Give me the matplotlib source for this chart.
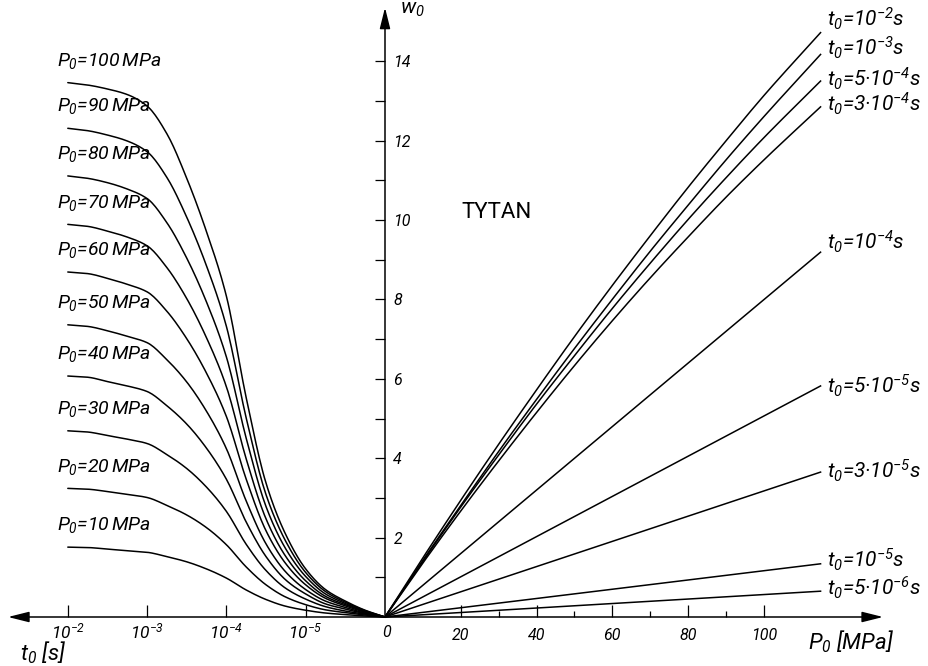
import numpy as np
import matplotlib
matplotlib.use("Agg")
import matplotlib.pyplot as plt
from matplotlib import font_manager
from matplotlib.ticker import FixedLocator, FixedFormatter, NullLocator

# ---------------- data ----------------
# left panel: w0 versus loading time t0 (log10 of t0), one curve per pressure P0
log_t0 = [-2.0, -2.25, -2.5, -2.75, -3.0, -3.25, -3.5, -3.75, -4.0,
          -4.25, -4.5, -4.75, -5.0, -5.25, -5.5, -5.75, -6.0]
pressures = [100, 90, 80, 70, 60, 50, 40, 30, 20, 10]
w_p100 = [13.46, 13.40, 13.30, 13.16, 12.87, 12.17, 11.05, 9.70, 8.08, 5.52, 3.37, 2.07, 1.21, 0.69, 0.40, 0.17, 0.0]
w_p90 = [12.31, 12.25, 12.14, 11.99, 11.72, 11.07, 10.07, 8.84, 7.32, 5.01, 3.08, 1.90, 1.12, 0.64, 0.37, 0.16, 0.0]
w_p80 = [11.11, 11.05, 10.94, 10.78, 10.54, 9.93, 9.04, 7.93, 6.55, 4.50, 2.78, 1.71, 1.02, 0.58, 0.34, 0.14, 0.0]
w_p70 = [9.89, 9.84, 9.72, 9.57, 9.35, 8.80, 8.02, 7.03, 5.80, 3.98, 2.47, 1.52, 0.91, 0.52, 0.31, 0.14, 0.0]
w_p60 = [8.69, 8.65, 8.53, 8.38, 8.19, 7.70, 7.01, 6.14, 5.05, 3.47, 2.17, 1.34, 0.81, 0.47, 0.28, 0.12, 0.0]
w_p50 = [7.36, 7.32, 7.21, 7.07, 6.91, 6.48, 5.92, 5.18, 4.24, 2.92, 1.84, 1.13, 0.69, 0.40, 0.24, 0.10, 0.0]
w_p40 = [6.07, 6.04, 5.93, 5.82, 5.68, 5.32, 4.86, 4.25, 3.47, 2.39, 1.52, 0.93, 0.58, 0.33, 0.20, 0.085, 0.0]
w_p30 = [4.69, 4.66, 4.57, 4.48, 4.37, 4.09, 3.74, 3.27, 2.66, 1.83, 1.17, 0.72, 0.45, 0.26, 0.15, 0.07, 0.0]
w_p20 = [3.24, 3.22, 3.16, 3.09, 3.01, 2.81, 2.57, 2.25, 1.82, 1.26, 0.81, 0.50, 0.31, 0.18, 0.11, 0.05, 0.0]
w_p10 = [1.76, 1.75, 1.71, 1.67, 1.63, 1.52, 1.39, 1.21, 0.98, 0.68, 0.44, 0.27, 0.17, 0.10, 0.06, 0.026, 0.0]
left_series = [w_p100, w_p90, w_p80, w_p70, w_p60, w_p50, w_p40, w_p30, w_p20, w_p10]

# right panel: w0 versus pressure P0 [MPa], one curve per loading time t0
p_curve = [0, 10, 20, 30, 40, 50, 60, 70, 80, 90, 100, 115]
w_t1e2 = [0, 1.49, 2.94, 4.35, 5.72, 7.06, 8.35, 9.60, 10.82, 11.99, 13.13, 14.72]
w_t1e3 = [0, 1.43, 2.81, 4.17, 5.48, 6.76, 8.00, 9.21, 10.37, 11.51, 12.60, 14.17]
w_t5e4 = [0, 1.40, 2.77, 4.08, 5.36, 6.58, 7.77, 8.91, 10.01, 11.06, 12.07, 13.50]
w_t3e4 = [0, 1.36, 2.67, 3.93, 5.15, 6.33, 7.46, 8.54, 9.57, 10.57, 11.51, 12.85]
p_line = [0, 115]
w_t1e4 = [0, 9.19]
w_t5e5 = [0, 5.82]
w_t3e5 = [0, 3.65]
w_t1e5 = [0, 1.34]
w_t5e6 = [0, 0.65]
right_series = [(p_curve, w_t1e2), (p_curve, w_t1e3), (p_curve, w_t5e4), (p_curve, w_t3e4),
                (p_line, w_t1e4), (p_line, w_t5e5), (p_line, w_t3e5), (p_line, w_t1e5), (p_line, w_t5e6)]
right_labels = [r"$t_0$=10$^{-2}$s", r"$t_0$=10$^{-3}$s", r"$t_0$=5·10$^{-4}$s",
                r"$t_0$=3·10$^{-4}$s", r"$t_0$=10$^{-4}$s", r"$t_0$=5·10$^{-5}$s",
                r"$t_0$=3·10$^{-5}$s", r"$t_0$=10$^{-5}$s", r"$t_0$=5·10$^{-6}$s"]
right_label_y = [15.08, 14.35, 13.55, 12.92, 9.45, 5.82, 3.68, 1.44, 0.73]

left_ticks = [1e-2, 1e-3, 1e-4, 1e-5]
left_tick_labels = [r"10$^{-2}$", r"10$^{-3}$", r"10$^{-4}$", r"10$^{-5}$"]
p_major = [20, 40, 60, 80, 100]
p_minor = [30, 50, 70, 90]
w_major = [2, 4, 6, 8, 10, 12, 14]
w_minor = [1, 3, 5, 7, 9, 11, 13]

# ---------------- fonts ----------------
available = {f.name for f in font_manager.fontManager.ttflist}
FAM = "DejaVu Sans"
for cand in ["Roboto", "Liberation Sans", "DejaVu Sans"]:
    if cand in available:
        FAM = cand
        break
plt.rcParams["font.family"] = [FAM, "DejaVu Sans"]
plt.rcParams["font.style"] = "italic"
plt.rcParams["mathtext.fontset"] = "custom"
plt.rcParams["mathtext.it"] = FAM + ":italic"
plt.rcParams["mathtext.rm"] = FAM + ":italic"
plt.rcParams["mathtext.sf"] = FAM + ":italic"
plt.rcParams["mathtext.default"] = "it"


def smooth(x, y, n=12):
    """monotone cubic Hermite rendering of the read points (for drawing only)"""
    x = np.asarray(x, float)
    y = np.asarray(y, float)
    h = np.diff(x)
    d = np.diff(y) / h
    m = np.zeros_like(y)
    m[0], m[-1] = d[0], d[-1]
    for i in range(1, len(y) - 1):
        if d[i - 1] * d[i] <= 0:
            m[i] = 0.0
        else:
            w1 = 2 * h[i] + h[i - 1]
            w2 = h[i] + 2 * h[i - 1]
            m[i] = (w1 + w2) / (w1 / d[i - 1] + w2 / d[i])
    xs, ys = [], []
    for i in range(len(x) - 1):
        s = np.linspace(0, 1, n, endpoint=False)
        h00 = 2 * s**3 - 3 * s**2 + 1
        h10 = s**3 - 2 * s**2 + s
        h01 = -2 * s**3 + 3 * s**2
        h11 = s**3 - s**2
        xs.append(x[i] + s * h[i])
        ys.append(h00 * y[i] + h10 * h[i] * m[i] + h01 * y[i + 1] + h11 * h[i] * m[i + 1])
    xs.append([x[-1]])
    ys.append([y[-1]])
    return np.concatenate(xs), np.concatenate(ys)


W, H = 929, 666
X0 = 385          # origin pixel column
Y0 = 617          # origin pixel row
PX_W = 39.7       # pixels per unit of w0
PX_DEC = 79.3     # pixels per decade of t0
PX_P = 3.7875     # pixels per MPa

fig = plt.figure(figsize=(W / 100, H / 100), dpi=100)
axL = fig.add_axes([0, 0, X0 / W, 1])
axR = fig.add_axes([X0 / W, 0, 1 - X0 / W, 1])
ylim = (-(H - Y0) / PX_W, Y0 / PX_W)

axL.set_xscale("log")
axL.set_xlim(10 ** (-6 + X0 / PX_DEC), 1e-6)
axR.set_xlim(0, (W - X0) / PX_P)
for ax in (axL, axR):
    ax.set_ylim(*ylim)
    ax.patch.set_alpha(0)
    for s in ax.spines.values():
        s.set_visible(False)
    ax.spines["bottom"].set_position(("data", 0))

# left x ticks
axL.xaxis.set_major_locator(FixedLocator(left_ticks))
axL.xaxis.set_major_formatter(FixedFormatter(left_tick_labels))
axL.xaxis.set_minor_locator(NullLocator())
axL.tick_params(axis="x", which="major", direction="in", length=8.6, width=0.9,
                pad=3, labelsize=12.5)
# y ticks on the origin line (right edge of left axes), pointing left
axL.yaxis.tick_right()
axL.yaxis.set_major_locator(FixedLocator(w_major))
axL.yaxis.set_minor_locator(FixedLocator(w_minor))
axL.tick_params(axis="y", which="both", direction="in", length=7, width=0.9,
                pad=6, labelsize=11.5, right=True, left=False)
axR.set_yticks([])
# right x ticks
axR.xaxis.set_major_locator(FixedLocator(p_major))
axR.xaxis.set_minor_locator(FixedLocator(p_minor))
axR.tick_params(axis="x", which="major", direction="in", length=8.6, width=0.9,
                pad=8, labelsize=11.5)
axR.tick_params(axis="x", which="minor", direction="in", length=4.5, width=0.9)

# axes lines with arrows
arrow = dict(arrowstyle="-|>,head_length=0.8,head_width=0.2", color="black", lw=1.1,
             mutation_scale=16, shrinkA=0, shrinkB=0)
axL.annotate("", xy=(10 ** -1.246, 0), xytext=(1e-6, 0), arrowprops=arrow,
             annotation_clip=False)
axR.annotate("", xy=(131.5, 0), xytext=(0, 0), arrowprops=arrow, annotation_clip=False)
axR.annotate("", xy=(0, 15.35), xytext=(0, 0), arrowprops=arrow, annotation_clip=False)

# curves
for p, w in zip(pressures, left_series):
    lx, ly = smooth(log_t0, w)
    axL.plot(10.0 ** lx, ly, color="black", lw=1.1, solid_capstyle="round")
    axL.text(10 ** -1.87, w[0] + 0.55, rf"$P_0$=${p}\,$MPa", fontsize=14,
             ha="left", va="center")

for (pp, w), lab, ly in zip(right_series, right_labels, right_label_y):
    sx, sy = smooth(pp, w)
    axR.plot(sx, sy, color="black", lw=1.1)
    axR.text(116.7, ly, lab, fontsize=15, ha="left", va="center")

# texts
axR.text(20.3, 10.18, "TYTAN", fontsize=16, style="normal", ha="left", va="center")
axR.text(4.0, 15.3, r"$w_0$", fontsize=15, ha="left", va="center")
axR.text(111.7, -0.63, r"$P_0$ [MPa]", fontsize=16, ha="left", va="center")
axR.text(0.3, -0.38, "0", fontsize=11.5, ha="center", va="center")
axL.text(10 ** -1.397, -0.9, r"$t_0$ [s]", fontsize=16, ha="left", va="center")

fig.savefig("out.png", dpi=100)
